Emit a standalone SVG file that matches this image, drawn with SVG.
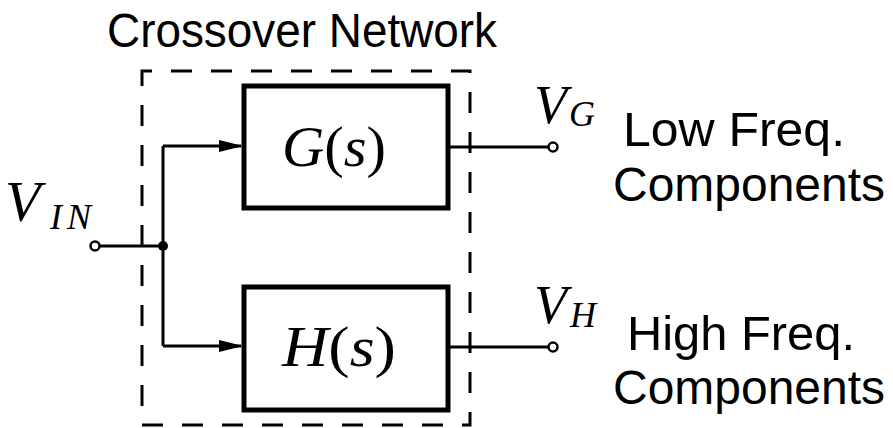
<svg xmlns="http://www.w3.org/2000/svg" width="893" height="428" viewBox="0 0 893 428">
<style>
.sans{font-family:"Liberation Sans","DejaVu Sans",sans-serif;fill:#000}
.math{font-family:"Liberation Serif","DejaVu Serif",serif;font-style:italic;fill:#000}
.rm{font-style:normal}
.box{fill:#fff;stroke:#000;stroke-width:5}
.wire{fill:none;stroke:#000;stroke-width:3}
.term{fill:#fff;stroke:#000;stroke-width:2.5}
</style>
<defs>
<marker id="arr" markerWidth="24" markerHeight="12" refX="22" refY="6" orient="auto" markerUnits="userSpaceOnUse">
<path d="M0,0 L24,6 L0,12 Z" fill="#000"/>
</marker>
</defs>
<rect width="893" height="428" fill="#fff"/>
<g id="network">
<rect x="142" y="71" width="328" height="354" fill="none" stroke="#000" stroke-width="3" stroke-dasharray="21 19" stroke-dashoffset="11"/>
<text class="sans" x="107" y="47" font-size="49" textLength="390" lengthAdjust="spacingAndGlyphs">Crossover Network</text>
</g>
<g id="connectors">
<path class="wire" d="M98,246 H163 M163,146 V346"/>
<path class="wire" d="M163,146 H241" marker-end="url(#arr)"/>
<path class="wire" d="M163,346 H241" marker-end="url(#arr)"/>
<path class="wire" d="M448,147 H548"/>
<path class="wire" d="M448,347 H548"/>
<circle cx="163" cy="246" r="5" fill="#000"/>
</g>
<g id="G">
<rect class="box" x="244" y="86" width="204" height="122"/>
<text class="math" x="282" y="166" font-size="58" textLength="104" lengthAdjust="spacingAndGlyphs">G<tspan class="rm">(</tspan>s<tspan class="rm">)</tspan></text>
</g>
<g id="H">
<rect class="box" x="244" y="287" width="204" height="123"/>
<text class="math" x="282" y="366" font-size="58" textLength="114" lengthAdjust="spacingAndGlyphs">H<tspan class="rm">(</tspan>s<tspan class="rm">)</tspan></text>
</g>
<g id="vin">
<circle class="term" cx="95" cy="246" r="4.5"/>
<text class="math" x="5" y="221" font-size="58">V</text>
<text class="math" x="50" y="229" font-size="36" letter-spacing="5">IN</text>
</g>
<g id="vg">
<circle class="term" cx="553" cy="147" r="4.5"/>
<text class="math" x="534" y="123" font-size="54">V</text>
<text class="math" x="569" y="126" font-size="36">G</text>
<text class="sans" x="623" y="146" font-size="48" textLength="222" lengthAdjust="spacingAndGlyphs">Low Freq.</text>
<text class="sans" x="613" y="201" font-size="48" textLength="272" lengthAdjust="spacingAndGlyphs">Components</text>
</g>
<g id="vh">
<circle class="term" cx="553" cy="347" r="4.5"/>
<text class="math" x="534" y="323" font-size="54">V</text>
<text class="math" x="570" y="327" font-size="36">H</text>
<text class="sans" x="627" y="350" font-size="48" textLength="228" lengthAdjust="spacingAndGlyphs">High Freq.</text>
<text class="sans" x="613" y="404" font-size="48" textLength="272" lengthAdjust="spacingAndGlyphs">Components</text>
</g>
</svg>
